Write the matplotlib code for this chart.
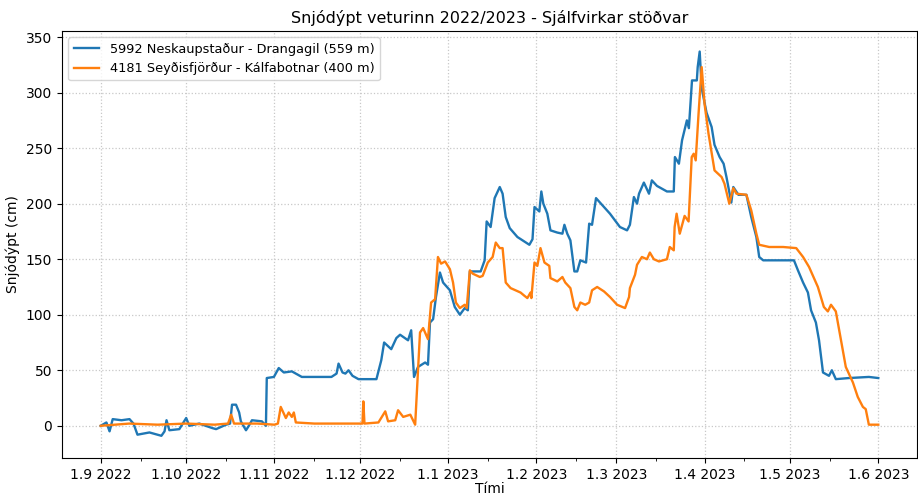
import matplotlib
matplotlib.use("Agg")
import matplotlib.pyplot as plt
import matplotlib.dates as mdates
import pandas as pd

# Days since 1 Sep 2022 and snow depth (cm)
blue_label = "5992 Neskaupstaður - Drangagil (559 m)"
blue_day = [0, 2.0, 3.1, 4.2, 7.3, 10.1, 11.5, 12.9, 17.1, 21.3, 22.4, 23.1, 24.1, 27.6, 30.0, 31.1,
            34.6, 39.1, 40.5, 44.0, 45.4, 46.1, 47.5, 48.6, 49.2, 51.0, 52.0, 53.1, 56.6, 58.0, 58.3,
            60.8, 62.5, 64.3, 67.1, 70.6, 81.0, 82.8, 83.5, 84.9, 85.9, 87.0, 88.4, 90.5, 96.8, 98.5,
            99.5, 102.0, 103.8, 105.1, 107.9, 109.0, 110.0, 111.4, 113.9, 114.9, 115.6, 116.7, 117.7,
            119.1, 120.2, 122.6, 124.3, 126.1, 127.8, 128.9, 129.6, 133.4, 134.8, 135.5, 136.9, 138.3,
            140.1, 141.1, 142.2, 143.6, 146.3, 150.5, 151.6, 152.3, 154.0, 154.7, 155.4, 156.8, 157.9,
            160.3, 162.1, 162.8, 163.8, 164.9, 166.3, 167.3, 168.4, 170.4, 171.5, 172.5, 173.9, 176.7,
            178.8, 182.3, 184.8, 185.8, 187.2, 188.3, 189.0, 190.7, 192.5, 193.5, 195.3, 198.8, 201.2,
            201.6, 203.0, 204.1, 205.8, 206.5, 207.6, 209.3, 209.6, 210.3, 211.0, 211.7, 212.7, 214.5,
            215.5, 217.3, 218.7, 219.7, 221.4, 222.1, 223.9, 226.7, 228.4, 230.2, 231.2, 232.6, 243.4,
            244.8, 246.6, 248.3, 249.4, 251.1, 252.2, 253.6, 255.7, 256.7, 258.1, 262.7, 269.7, 273.0]
blue_val = [0, 3, -5, 6, 5, 6, 2, -8, -6, -9, -5, 5, -4, -3, 7, 0,
            2, -2, -3, 1, 2, 19, 19, 12, 4, -4, 0, 5, 4, 0, 43,
            44, 52, 48, 49, 44, 44, 47, 56, 48, 47, 50, 45, 42, 42, 59,
            75, 69, 79, 82, 77, 86, 44, 53, 57, 55, 93, 96, 116,
            138, 129, 122, 107, 100, 106, 104, 139, 139, 149, 184, 179, 205,
            215, 209, 188, 178, 170, 163, 168, 197, 193, 211, 200, 191, 176,
            174, 173, 181, 173, 167, 139, 139, 149, 147, 182, 181, 205, 197,
            191, 179, 176, 181, 206, 200, 209, 219, 209, 221, 216, 211, 211,
            242, 236, 257, 275, 268, 311, 311, 323, 337, 304, 295, 282, 269,
            253, 242, 236, 224, 201, 215, 208, 208, 188, 170, 152, 149, 149,
            140, 129, 120, 104, 93, 77, 48, 45, 50, 42, 43, 44, 43]

orange_label = "4181 Seyðisfjörður - Kálfabotnar (400 m)"
orange_day = [0, 10, 20, 30, 40, 44.7, 45.8, 46.8, 55, 61, 62.2, 63.2, 65.0, 66.0, 67.1, 67.8, 68.5,
              75, 85, 91.9, 92.2, 92.6, 97.5, 99.2, 99.9, 100.9, 103.4, 104.4, 106.2, 108.7, 110.4,
              112.1, 113.2, 114.9, 116.0, 117.4, 118.4, 119.5, 120.9, 122.6, 123.7, 124.7, 126.1, 127.8,
              128.5, 129.6, 130.6, 133.1, 134.1, 135.9, 137.6, 138.7, 140.1, 141.1, 142.2, 143.9, 147.4,
              148.8, 149.8, 150.9, 151.2, 152.3, 153.3, 154.4, 155.8, 157.5, 157.9, 160.3, 162.1, 163.1,
              164.9, 166.3, 167.3, 168.4, 170.1, 171.5, 172.5, 174.3, 176.7, 178.8, 181.3, 184.1, 185.5,
              185.8, 187.6, 188.3, 190.0, 191.8, 192.8, 194.2, 196.0, 198.8, 199.8, 201.2, 201.5, 202.2,
              203.3, 205.0, 206.4, 207.5, 208.2, 208.9, 209.9, 211.0, 212.0, 213.4, 215.5, 218.0, 219.0,
              220.7, 222.1, 223.2, 226.7, 228.4, 230.2, 231.2, 234.7, 239.6, 244.2, 246.6, 248.7, 251.8,
              253.9, 255.3, 256.4, 258.1, 259.9, 261.6, 264.1, 265.8, 267.6, 268.6, 269.7, 273.0]
orange_val = [0, 2, 1, 2, 1, 2, 10, 2, 2, 1, 2, 17, 7, 12, 8, 12, 3,
              2, 2, 2, 22, 2, 3, 10, 13, 4, 5, 14, 8, 10, 1,
              84, 88, 78, 111, 114, 152, 146, 148, 141, 129, 111, 106, 109,
              106, 140, 137, 134, 135, 147, 152, 165, 160, 160, 129, 124, 120,
              117, 115, 120, 115, 147, 144, 160, 147, 144, 133, 130, 134, 129,
              124, 107, 104, 111, 109, 111, 122, 125, 121, 116, 109, 106, 116,
              124, 136, 145, 152, 150, 156, 150, 148, 150, 161, 158, 179, 191,
              173, 189, 184, 242, 245, 239, 281, 323, 290, 263, 230, 224, 218,
              200, 214, 209, 208, 194, 173, 163, 161, 161, 160, 152, 143, 125,
              107, 103, 109, 103, 77, 53, 39, 26, 17, 15, 1, 1]

title = "Snjódýpt veturinn 2022/2023 - Sjálfvirkar stöðvar"
ylabel = "Snjódýpt (cm)"
xlabel = "Tími"

start = pd.Timestamp("2022-09-01")
blue_t = start + pd.to_timedelta(blue_day, unit="D")
orange_t = start + pd.to_timedelta(orange_day, unit="D")

fig = plt.figure(figsize=(9.18, 4.96), dpi=100)
ax = fig.add_axes([62/918, 38/496, 855/918, 427/496])
ax.plot(blue_t, blue_val, color="#1f77b4", lw=1.7, label=blue_label)
ax.plot(orange_t, orange_val, color="#ff7f0e", lw=1.7, label=orange_label)

ax.set_ylim(-29, 355.5)
ax.set_xlim(start - pd.Timedelta(days=13.6), pd.Timestamp("2023-06-01") + pd.Timedelta(days=13.6))
ax.xaxis.set_major_locator(mdates.MonthLocator())
ax.xaxis.set_major_formatter(mdates.DateFormatter("%-d.%-m %Y"))
ax.xaxis.set_minor_locator(mdates.DayLocator(bymonthday=15))
ax.grid(True, which="major", linestyle=":", color="#c8c8c8", linewidth=0.9)
ax.set_title(title, fontsize=11.5, pad=6)
ax.set_ylabel(ylabel)
ax.set_xlabel(xlabel, labelpad=0)
ax.legend(loc="upper left", fontsize=9.3)

fig.savefig("out.png", dpi=100)
